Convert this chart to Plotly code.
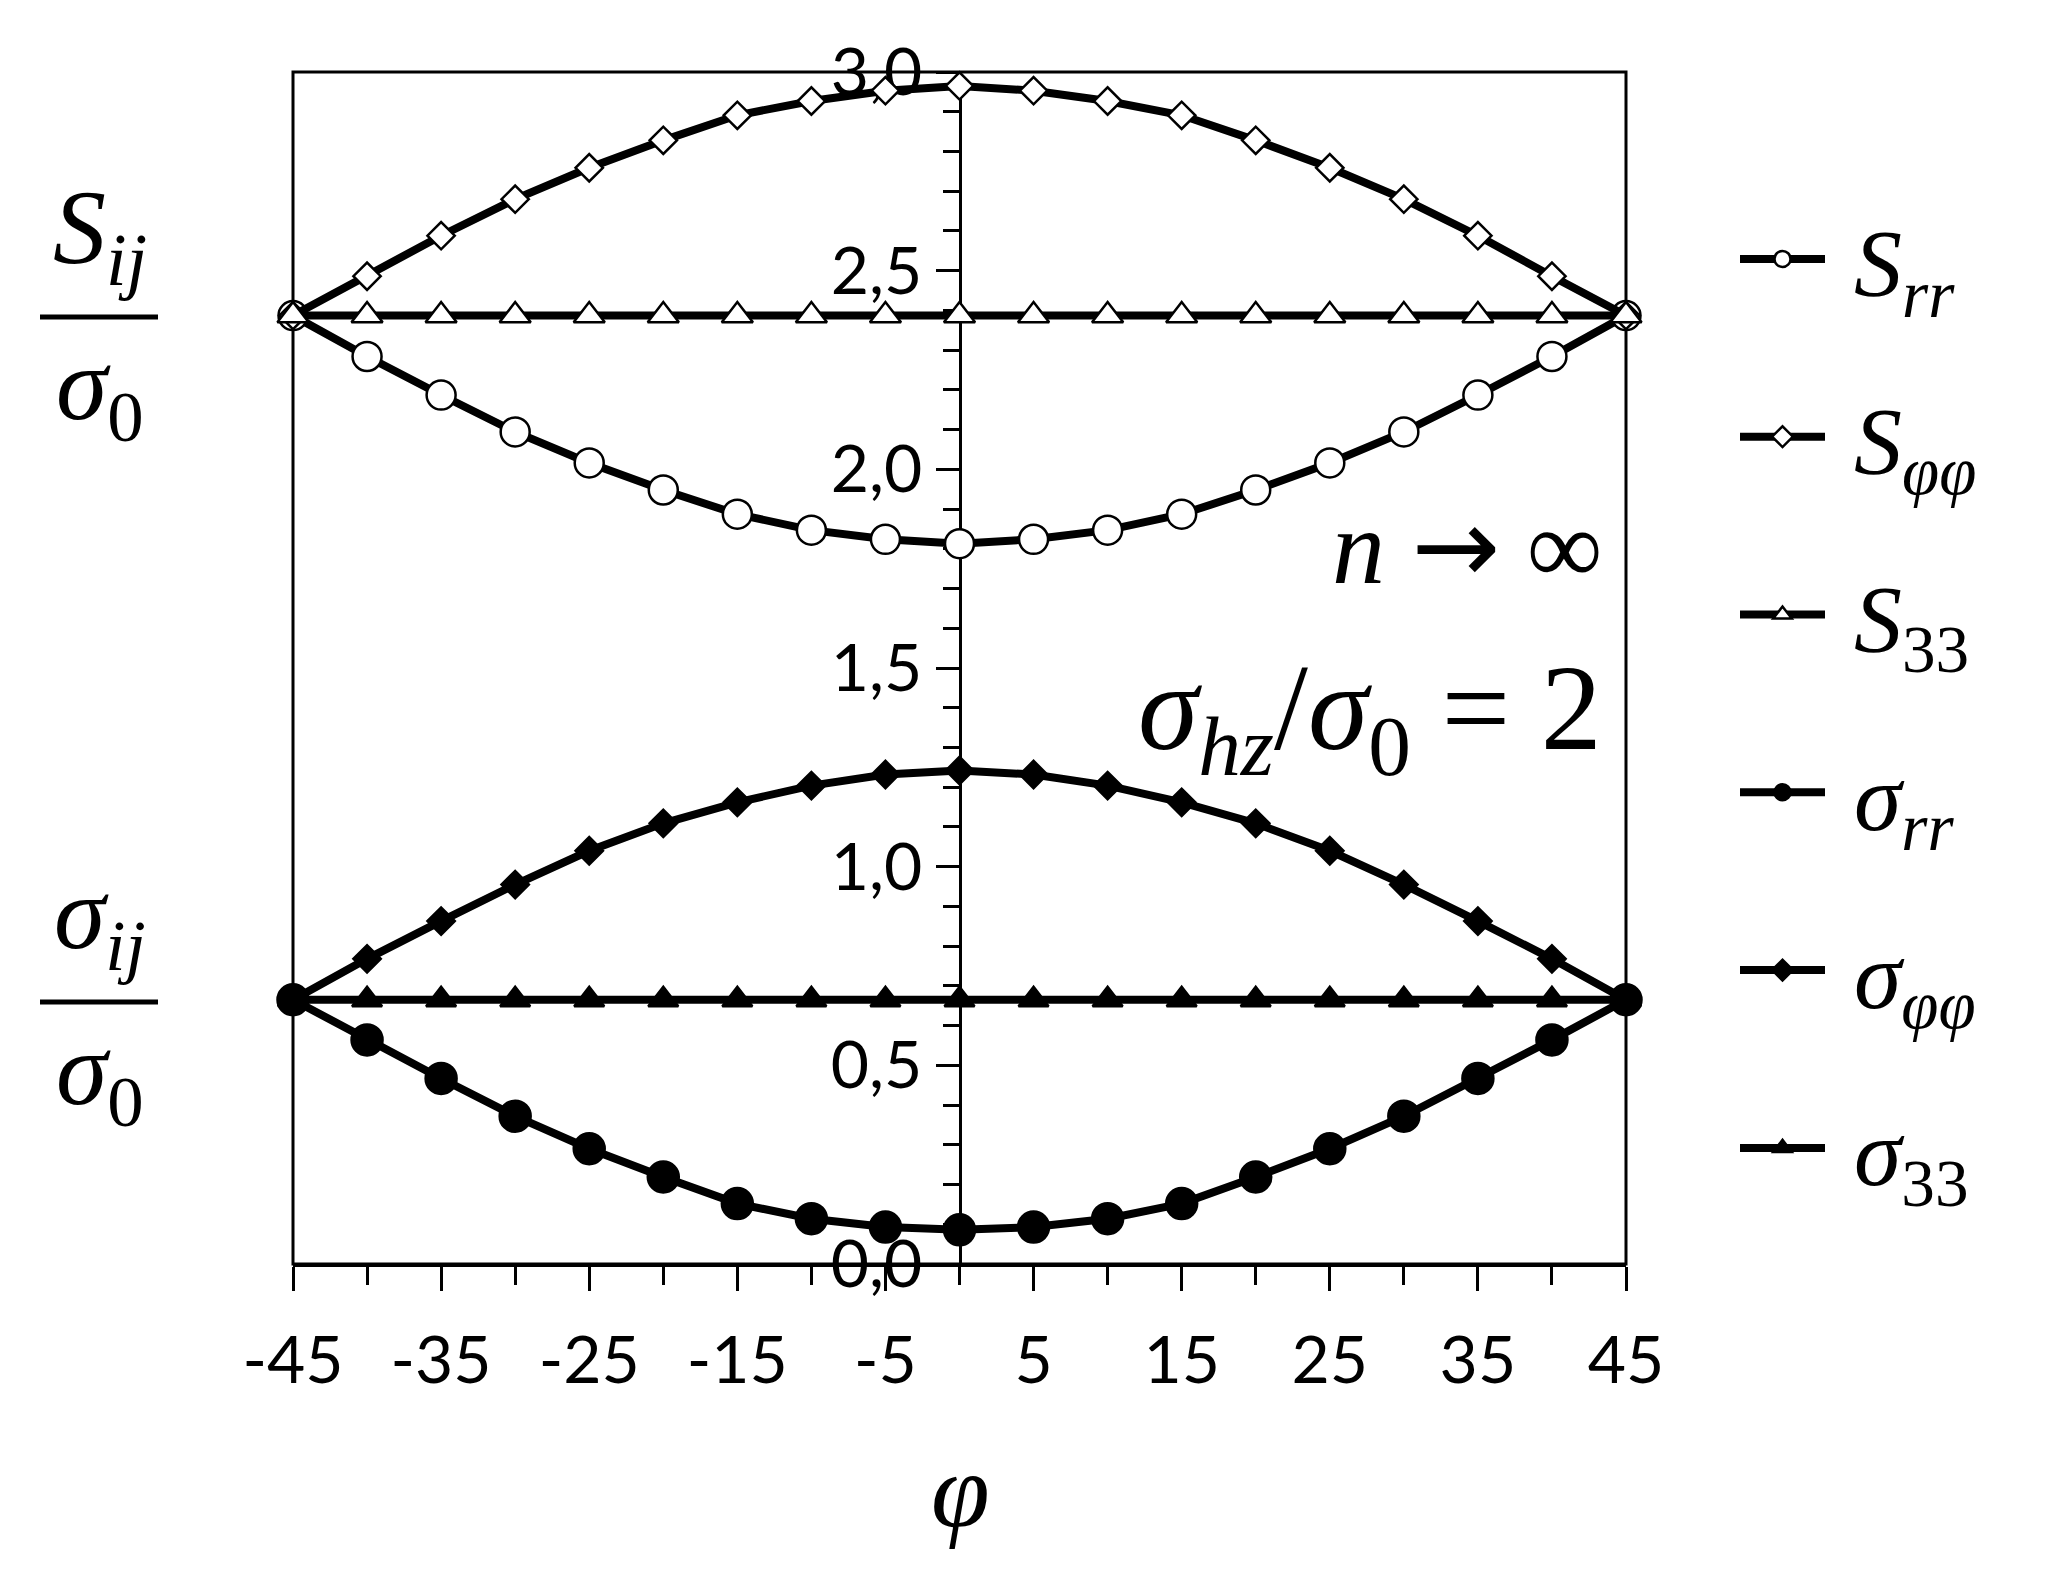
import plotly.graph_objects as go

# ---- data ----
phi = [-45, -40, -35, -30, -25, -20, -15, -10, -5, 0, 5, 10, 15, 20, 25, 30, 35, 40, 45]
S_rr = [2.387, 2.284, 2.187, 2.094, 2.016, 1.948, 1.887, 1.847, 1.824, 1.813,
        1.824, 1.847, 1.887, 1.948, 2.016, 2.094, 2.187, 2.284, 2.387]
S_pp = [2.387, 2.486, 2.588, 2.680, 2.759, 2.828, 2.891, 2.927, 2.953, 2.965,
        2.953, 2.927, 2.891, 2.828, 2.759, 2.680, 2.588, 2.486, 2.387]
S_33 = [2.387] * 19
sig_rr = [0.665, 0.564, 0.467, 0.372, 0.290, 0.219, 0.152, 0.114, 0.093, 0.086,
          0.093, 0.114, 0.152, 0.219, 0.290, 0.372, 0.467, 0.564, 0.665]
sig_pp = [0.665, 0.768, 0.863, 0.955, 1.040, 1.109, 1.162, 1.204, 1.232, 1.242,
          1.232, 1.204, 1.162, 1.109, 1.040, 0.955, 0.863, 0.768, 0.665]
sig_33 = [0.665] * 19

x_tickvals = [-45, -35, -25, -15, -5, 5, 15, 25, 35, 45]
x_ticktext = [str(v) for v in x_tickvals]
x_minor = [-40, -30, -20, -10, 0, 10, 20, 30, 40]
y_tickvals = [0, 0.5, 1.0, 1.5, 2.0, 2.5, 3.0]
y_ticktext = ["0,0", "0,5", "1,0", "1,5", "2,0", "2,5", "3,0"]

PAD = "\u00a0"
names = [PAD + "<i>S</i><sub><i>rr</i></sub>", PAD + "<i>S</i><sub><i>φφ</i></sub>",
         PAD + "<i>S</i><sub>33</sub>", PAD + "<i>σ</i><sub><i>rr</i></sub>",
         PAD + "<i>σ</i><sub><i>φφ</i></sub>", PAD + "<i>σ</i><sub>33</sub>"]

# ---- geometry (page pixels; the page body adds an 8px offset) ----
OFF = 8
W, H = 2048 - OFF, 1571 - OFF
L, R, T, B = 293, 1626, 72, 1264      # plot area in page pixels
PW, PH = R - L, B - T


def px(xp):
    return (xp - L) / PW


def py(yp):
    return 1 - (yp - T) / PH


series = [
    (S_rr, "circle", 29, "white"),
    (S_pp, "diamond", 21, "white"),
    (S_33, "triangle-up", 27, "white"),
    (sig_rr, "circle", 31, "black"),
    (sig_pp, "diamond", 21, "black"),
    (sig_33, "triangle-up", 26, "black"),
]

fig = go.Figure()
for i, (vals, sym, size, fill) in enumerate(series):
    fig.add_trace(go.Scatter(
        x=phi, y=vals, mode="lines+markers", name=names[i],
        legendgroup=f"g{i}",
        line=dict(color="black", width=8),
        marker=dict(symbol=sym, size=size, color=fill,
                    line=dict(color="black", width=2.5)),
        cliponaxis=False,
    ))

serif = "Liberation Serif"
sans = "Lato"
ARROW = '<span style="font-family:DejaVu Sans">→</span>'

annotations = [
    dict(text="<i>S</i><sub><i>ij</i></sub>", x=px(100), y=py(303), xref="paper", yref="paper",
         xanchor="center", yanchor="bottom", showarrow=False, font=dict(family=serif, size=106)),
    dict(text="<i>σ</i><sub>0</sub>", x=px(100), y=py(324), xref="paper", yref="paper",
         xanchor="center", yanchor="top", showarrow=False, font=dict(family=serif, size=104)),
    dict(text="<i>σ</i><sub><i>ij</i></sub>", x=px(100), y=py(988), xref="paper", yref="paper",
         xanchor="center", yanchor="bottom", showarrow=False, font=dict(family=serif, size=104)),
    dict(text="<i>σ</i><sub>0</sub>", x=px(100), y=py(1009), xref="paper", yref="paper",
         xanchor="center", yanchor="top", showarrow=False, font=dict(family=serif, size=104)),
    dict(text="<i>n</i> " + ARROW + " ∞", x=px(1604), y=py(546), xref="paper", yref="paper",
         xanchor="right", yanchor="middle", showarrow=False, font=dict(family=serif, size=106)),
    dict(text="<i>σ</i><sub><i>hz</i></sub>/<i>σ</i><sub>0</sub> = 2", x=px(1604), y=py(716),
         xref="paper", yref="paper", xanchor="right", yanchor="middle", showarrow=False,
         font=dict(family=serif, size=122)),
    dict(text="<i>φ</i>", x=px(960), y=py(1490), xref="paper", yref="paper",
         xanchor="center", yanchor="middle", showarrow=False, font=dict(family=serif, size=106)),
]

shapes = [
    dict(type="rect", xref="paper", yref="paper", x0=0, y0=0, x1=1, y1=1,
         line=dict(color="black", width=3), layer="below"),
    dict(type="line", xref="paper", yref="paper", x0=px(40), x1=px(158), y0=py(317), y1=py(317),
         line=dict(color="black", width=5)),
    dict(type="line", xref="paper", yref="paper", x0=px(40), x1=px(158), y0=py(1002), y1=py(1002),
         line=dict(color="black", width=5)),
]

fig.update_layout(
    width=W, height=H, autosize=False,
    margin=dict(l=L - OFF, r=W - (R - OFF), t=T - OFF, b=H - (B - OFF)),
    paper_bgcolor="white", plot_bgcolor="white",
    font=dict(color="black", family=serif),
    showlegend=True,
    legend=dict(x=px(1735), y=py(190), xanchor="left", yanchor="top",
                font=dict(family=serif, size=96, color="black"),
                tracegroupgap=50, itemwidth=85, bgcolor="rgba(0,0,0,0)"),
    xaxis=dict(range=[-45, 45], tickvals=x_tickvals, ticktext=x_ticktext,
               ticks="outside", ticklen=24, tickwidth=3, tickcolor="black",
               showline=True, linewidth=3, linecolor="black",
               showgrid=False, zeroline=False,
               tickfont=dict(family=sans, size=66, color="black"),
               ticklabelstandoff=13,
               minor=dict(tickvals=x_minor, ticks="outside", ticklen=18,
                          tickwidth=3, tickcolor="black")),
    yaxis=dict(range=[0, 3], anchor="free", position=0.5,
               tickvals=y_tickvals, ticktext=y_ticktext,
               ticks="outside", ticklen=23, tickwidth=3, tickcolor="black",
               showline=True, linewidth=3, linecolor="black",
               showgrid=False, zeroline=False, layer="below traces",
               tickfont=dict(family=sans, size=66, color="black"),
               minor=dict(tick0=0, dtick=0.1, ticks="outside", ticklen=16,
                          tickwidth=3, tickcolor="black")),
    annotations=annotations,
    shapes=shapes,
)

fig.write_html("out.html")
